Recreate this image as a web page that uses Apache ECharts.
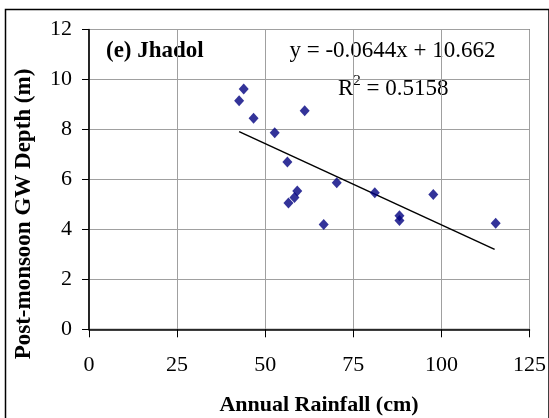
<!DOCTYPE html>
<html>
<head>
<meta charset="utf-8">
<script src="https://cdn.jsdelivr.net/npm/echarts@6/dist/echarts.min.js"></script>
<style>
html,body{margin:0;padding:0;background:#fff;}
#chart{width:549px;height:418px;}
</style>
</head>
<body>
<div id="chart"></div>
<script>
// Data
var rainfall = [43.9, 42.6, 46.7, 61.2, 52.7, 56.3, 59.1, 58.3, 56.6, 66.6, 70.3, 81.1, 88.1, 88.1, 97.7, 115.4];
var depth    = [9.62, 9.15, 8.45, 8.75, 7.87, 6.70, 5.54, 5.28, 5.06, 4.19, 5.87, 5.47, 4.55, 4.35, 5.40, 4.24];
var trendX   = [42.6, 115.1];
var trendY   = [7.91, 3.20];
var xTicks   = [0, 25, 50, 75, 100, 125];
var yTicks   = [0, 2, 4, 6, 8, 10, 12];
var stationLabel = '(e) Jhadol';
var equationText = 'y = -0.0644x + 10.662';
var r2Value = '0.5158';
var xName = 'Annual Rainfall (cm)';
var yName = 'Post-monsoon GW Depth (m)';

var points = rainfall.map(function (x, i) { return [x, depth[i]]; });
var trend = trendX.map(function (x, i) { return [x, trendY[i]]; });

var FONT = '"Liberation Serif", "Times New Roman", serif';
var chart = echarts.init(document.getElementById('chart'), null, {renderer: 'canvas'});
chart.setOption({
  animation: false,
  backgroundColor: '#fff',
  grid: {left: 89, right: 18.5, top: 29.5, bottom: 88.7, show: true, borderColor: '#222', borderWidth: 1},
  xAxis: {
    type: 'value', min: xTicks[0], max: xTicks[xTicks.length - 1], interval: 25,
    axisLine: {show: true, onZero: false, lineStyle: {color: '#000', width: 1.5}},
    axisTick: {show: true, inside: false, length: 8, lineStyle: {color: '#000', width: 1}},
    axisLabel: {margin: 25, fontFamily: FONT, fontSize: 22, color: '#000'},
    splitLine: {show: true, lineStyle: {color: '#a0a0a0', width: 1}}
  },
  yAxis: {
    type: 'value', min: yTicks[0], max: yTicks[yTicks.length - 1], interval: 2,
    axisLine: {show: true, onZero: false, lineStyle: {color: '#000', width: 1.5}},
    axisTick: {show: true, inside: false, length: 7, lineStyle: {color: '#000', width: 1}},
    axisLabel: {margin: 17, fontFamily: FONT, fontSize: 22, color: '#000'},
    splitLine: {show: true, lineStyle: {color: '#a0a0a0', width: 1}}
  },
  series: [
    {
      type: 'line', data: trend, symbol: 'none', silent: true,
      lineStyle: {color: '#000', width: 1.5}, z: 2
    },
    {
      type: 'scatter', data: points, symbol: 'diamond', symbolSize: [10, 11],
      itemStyle: {color: '#000080'}, z: 3
    }
  ],
  graphic: [
    {type: 'rect', left: 3, top: 7, shape: {width: 543.5, height: 420}, silent: true,
     style: {fill: 'none', stroke: '#000', lineWidth: 1.5}},
    {type: 'text', x: 106, y: 51, silent: true,
     style: {text: stationLabel, font: 'bold 23px ' + FONT, fill: '#000', textAlign: 'left', textVerticalAlign: 'middle'}},
    {type: 'text', x: 392.5, y: 51, silent: true,
     style: {text: equationText, font: '23px ' + FONT, fill: '#000', textAlign: 'center', textVerticalAlign: 'middle'}},
    {type: 'text', x: 338, y: 87, silent: true,
     style: {text: '{a|R}{s|2}{a| = ' + r2Value + '}', fill: '#000', textAlign: 'left', textVerticalAlign: 'middle',
       rich: {a: {fontFamily: FONT, fontSize: 23, lineHeight: 26, verticalAlign: 'bottom'},
              s: {fontFamily: FONT, fontSize: 15, lineHeight: 26, verticalAlign: 'top'}}}},
    {type: 'text', x: 319, y: 405, silent: true,
     style: {text: xName, font: 'bold 22px ' + FONT, fill: '#000', textAlign: 'center', textVerticalAlign: 'middle'}},
    {type: 'text', x: 24, y: 214, rotation: Math.PI / 2, silent: true,
     style: {text: yName, font: 'bold 23px ' + FONT, fill: '#000', textAlign: 'center', textVerticalAlign: 'middle'}}
  ]
});
</script>
</body>
</html>
